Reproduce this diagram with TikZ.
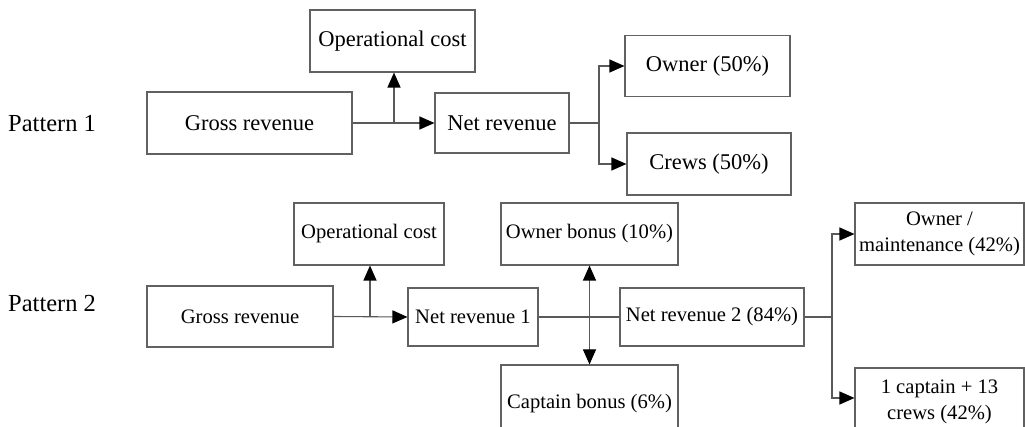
\documentclass[tikz,border=0pt]{standalone}
\usepackage{fontspec}
\setmainfont{Liberation Serif}
\usetikzlibrary{arrows.meta}
\tikzset{
  box/.style={draw=black!62, line width=1.1pt, fill=white, inner sep=0pt, align=center,
    font=\fontsize{22.5}{25.5}\selectfont, text=black},
  boxb/.style={box, font=\fontsize{20.6}{25.5}\selectfont},
  conn/.style={draw=black!65, line width=1.1pt},
  tip/.tip={Triangle[length=15pt,width=13pt,color=black]},
  arr/.style={conn, -tip},
  darr/.style={conn, tip-tip},
  lab/.style={font=\fontsize{24.5}{28}\selectfont, anchor=base west, inner sep=0pt, text=black}
}
\begin{document}
\begin{tikzpicture}[x=1pt, y=-1pt]
\useasboundingbox (0,0) rectangle (1025,427);
\clip (0,0) rectangle (1025,427);
\fill[white] (0,0) rectangle (1025,427);
% Pattern 1
\node[lab] (p1) at (8,132) {Pattern 1};
\node[box, minimum width=205pt, minimum height=62pt] (gr1) at (249.5,123) {Gross revenue};
\node[box, minimum width=165pt, minimum height=62pt] (oc1) at (392.5,41) {Operational cost};
\node[box, minimum width=134pt, minimum height=60pt] (nr1) at (502,123) {Net revenue};
\node[box, minimum width=165pt, minimum height=61pt] (ow1) at (707.5,66) {Owner (50\%)};
\node[box, minimum width=164pt, minimum height=62pt] (cr1) at (709,164) {Crews (50\%)};
\coordinate (j1) at (394,123);
\coordinate (b1) at (599,123);
\draw[arr] (gr1.east) -- (nr1.west);
\draw[arr] (j1) -- (j1 |- oc1.south);
\draw[conn] (nr1.east) -- (b1);
\draw[arr] (b1) |- (ow1.west);
\draw[arr] (b1) |- (cr1.west);
% Pattern 2
\node[lab] (p2) at (8,312) {Pattern 2};
\node[boxb, minimum width=186pt, minimum height=61pt] (gr2) at (240,316.5) {Gross revenue};
\node[boxb, minimum width=150pt, minimum height=62pt] (oc2) at (369,234) {Operational cost};
\node[boxb, minimum width=130pt, minimum height=58pt] (n1) at (473,317) {Net revenue 1};
\node[boxb, minimum width=177pt, minimum height=62pt] (ob) at (589.5,234) {Owner bonus (10\%)};
\node[boxb, minimum width=177pt, minimum height=78pt] (cb) at (589.5,404) {Captain bonus (6\%)};
\node[boxb, minimum width=184pt, minimum height=58pt] (n2) at (712,317) {Net revenue 2 (84\%)};
\node[boxb, minimum width=169pt, minimum height=62pt] (om) at (939.5,234) {Owner /\\maintenance (42\%)};
\node[boxb, minimum width=169pt, minimum height=68pt] (cc) at (939.5,402) {1 captain + 13\\crews (42\%)};
\coordinate (j2) at (370,317);
\coordinate (b2) at (832,317);
\draw[arr] (gr2.east) -- (n1.west);
\draw[arr] (j2) -- (j2 |- oc2.south);
\draw[conn] (n1.east) -- (n2.west);
\draw[darr] (ob.south) -- (cb.north);
\draw[conn] (n2.east) -- (b2);
\draw[arr] (b2) |- (om.west);
\draw[arr] (b2) -- (b2 |- 0,398) -- (cc.west |- 0,398);
\end{tikzpicture}
\end{document}
